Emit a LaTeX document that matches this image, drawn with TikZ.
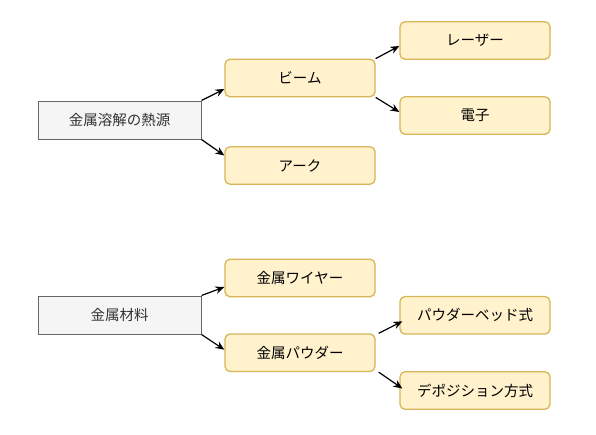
\documentclass[tikz,border=0pt]{standalone}
\usepackage{fontspec}
\setmainfont{Noto Sans CJK JP}
\usepackage{xcolor}
\usetikzlibrary{arrows.meta}
\definecolor{boxfill}{HTML}{FFF2CC}
\definecolor{boxline}{HTML}{D6B656}
\definecolor{rootfill}{HTML}{F5F5F5}
\definecolor{rootline}{HTML}{666666}
\definecolor{roottext}{HTML}{333333}

\begin{document}
\begin{tikzpicture}[x=1pt,y=-1pt,
    root/.style={draw=rootline,fill=rootfill,text=roottext,line width=1pt,
        minimum width=163pt,minimum height=38pt,inner sep=0pt,
        font=\fontsize{14.5}{16}\selectfont},
    item/.style={draw=boxline,fill=boxfill,rounded corners=5pt,line width=1.3pt,
        minimum width=150pt,minimum height=37.5pt,inner sep=0pt,
        font=\fontsize{14.5}{16}\selectfont},
    flow/.style={->,>={Stealth[length=9pt,width=7.5pt]},draw,line width=1.2pt}
]
    \useasboundingbox (0,0) rectangle (596,434);

    % heat sources
    \node[root] (heat) at (119.5,120) {金属溶解の熱源};
    \node[item] (beam) at (300,78) {ビーム};
    \node[item] (arc) at (300,165.5) {アーク};
    \node[item] (laser) at (475,40.5) {レーザー};
    \node[item] (electron) at (475,115.5) {電子};
    \draw[flow] (heat.north east) -- ([yshift=-11pt]beam.west);
    \draw[flow] (heat.south east) -- ([yshift=10pt]arc.west);
    \draw[flow] (beam.north east) -- ([yshift=-5.5pt]laser.west);
    \draw[flow] (beam.south east) -- ([yshift=3.5pt]electron.west);

    % materials
    \node[root] (metal) at (119.5,315) {金属材料};
    \node[item] (wire) at (300,278) {金属ワイヤー};
    \node[item] (powder) at (300,352.7) {金属パウダー};
    \node[item] (bed) at (475,315.3) {パウダーベッド式};
    \node[item] (depo) at (475,390.5) {デポジション方式};
    \draw[flow] (metal.north east) -- ([yshift=-9pt]wire.west);
    \draw[flow] (metal.south east) -- ([yshift=3pt]powder.west);
    \draw[flow] ([xshift=3pt]powder.north east) -- ([xshift=3pt,yshift=-6pt]bed.west);
    \draw[flow] ([xshift=3pt]powder.south east) -- ([xshift=3pt,yshift=2pt]depo.west);
\end{tikzpicture}
\end{document}
